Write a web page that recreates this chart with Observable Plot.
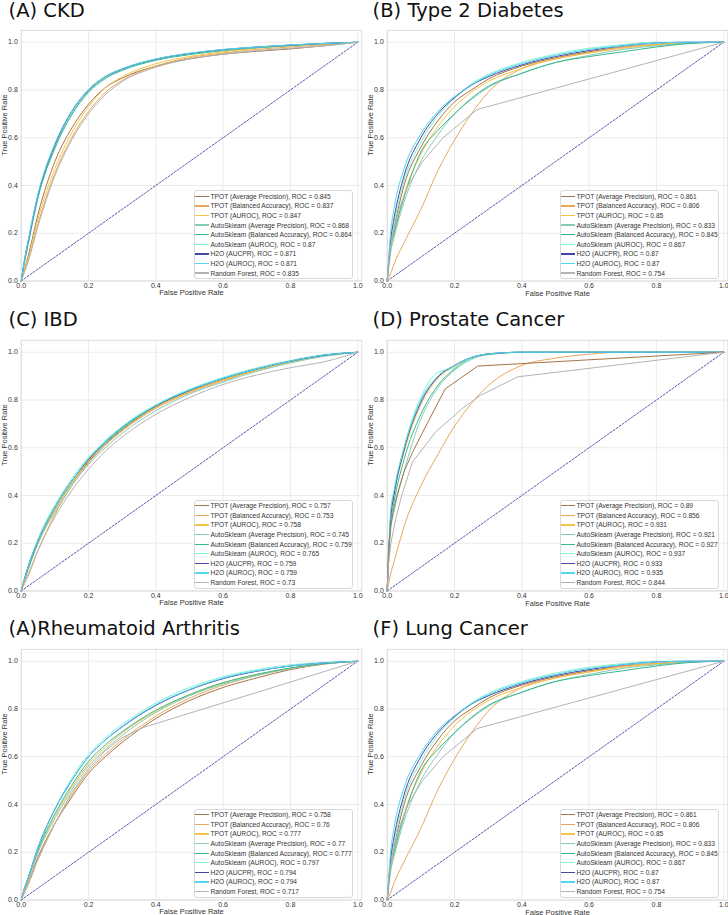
<!DOCTYPE html>
<html><head><meta charset="utf-8">
<script src="https://cdn.jsdelivr.net/npm/d3@7"></script>
<script src="https://cdn.jsdelivr.net/npm/@observablehq/plot@0.6"></script>
<style>
body{margin:0;background:#fff;}
#wrap{position:relative;width:728px;height:915px;overflow:hidden;background:#fff;}
.panel{position:absolute;}
.title{position:absolute;font-family:"DejaVu Sans",sans-serif;font-size:19.5px;line-height:22px;color:#111;white-space:nowrap;}
.legend{position:absolute;width:159px;height:89px;padding-top:0.5px;background:rgba(255,255,255,0.85);border:1px solid #d9d9d9;border-radius:3px;font-family:"Liberation Sans",Arial,sans-serif;font-size:6.65px;color:#333;box-sizing:border-box;}
.legend .row{display:flex;align-items:center;height:9.6px;white-space:nowrap;}
.legend .sw{width:14px;height:1.3px;margin:0 1.5px 0 0.5px;flex:none;}
</style></head>
<body><div id="wrap"></div>
<script>
// ---------- shared data ----------
const models = ["TPOT (Average Precision)","TPOT (Balanced Accuracy)","TPOT (AUROC)","AutoSkleam (Average Precision)","AutoSkleam (Balanced Accuracy)","AutoSkleam (AUROC)","H2O (AUCPR)","H2O (AUROC)","Random Forest"];
const colors = ["#a5744a","#e8a85c","#f6c344","#86cbb9","#38b88e","#80f2d6","#4646a6","#52d8ee","#b3b3b3"];
const tickValues = [0, 0.2, 0.4, 0.6, 0.8, 1.0];
const diagonal = [0, 1];
const fprGrid = [0, 0.01, 0.02, 0.05, 0.1, 0.15, 0.2, 0.25, 0.3, 0.4, 0.5, 0.6, 0.7, 0.8, 0.9, 1];

// ---------- (A) CKD ----------
const ckdROC = [0.845, 0.837, 0.847, 0.868, 0.864, 0.87, 0.871, 0.871, 0.835];
const ckdTPR = [
  [0, 0.05, 0.10, 0.28, 0.50, 0.64, 0.74, 0.81, 0.85, 0.90, 0.93, 0.95, 0.962, 0.972, 0.985, 1],
  [0, 0.04, 0.08, 0.24, 0.45, 0.60, 0.71, 0.79, 0.84, 0.90, 0.935, 0.955, 0.97, 0.98, 0.99, 1],
  [0, 0.05, 0.09, 0.26, 0.47, 0.62, 0.73, 0.81, 0.855, 0.91, 0.94, 0.96, 0.975, 0.985, 0.993, 1],
  [0, 0.08, 0.15, 0.35, 0.56, 0.70, 0.795, 0.85, 0.885, 0.926, 0.95, 0.967, 0.978, 0.987, 0.995, 1],
  [0, 0.08, 0.15, 0.35, 0.555, 0.695, 0.79, 0.848, 0.882, 0.924, 0.948, 0.965, 0.977, 0.986, 0.994, 1],
  [0, 0.09, 0.16, 0.36, 0.57, 0.71, 0.80, 0.855, 0.887, 0.928, 0.952, 0.968, 0.979, 0.988, 0.995, 1],
  [0, 0.09, 0.16, 0.36, 0.57, 0.71, 0.80, 0.856, 0.888, 0.929, 0.953, 0.969, 0.98, 0.988, 0.995, 1],
  [0, 0.09, 0.165, 0.365, 0.575, 0.712, 0.802, 0.857, 0.889, 0.93, 0.954, 0.97, 0.98, 0.989, 0.995, 1],
  [0, 0.04, 0.08, 0.23, 0.44, 0.59, 0.70, 0.78, 0.835, 0.895, 0.93, 0.95, 0.965, 0.975, 0.985, 1]
];

// ---------- (B) Type 2 Diabetes ----------
const t2dROC = [0.861, 0.806, 0.85, 0.833, 0.845, 0.867, 0.87, 0.87, 0.754];
const t2dTPR = [
  [0, 0.15, 0.22, 0.40, 0.56, 0.67, 0.75, 0.80, 0.845, 0.90, 0.935, 0.96, 0.98, 0.99, 0.998, 1],
  [0, 0.03, 0.07, 0.16, 0.30, 0.46, 0.59, 0.70, 0.79, 0.89, 0.93, 0.955, 0.98, 0.99, 0.997, 1],
  [0, 0.12, 0.19, 0.36, 0.53, 0.645, 0.73, 0.79, 0.835, 0.89, 0.93, 0.955, 0.975, 0.99, 0.998, 1],
  [0, 0.12, 0.18, 0.33, 0.50, 0.61, 0.70, 0.76, 0.81, 0.87, 0.915, 0.945, 0.97, 0.985, 0.997, 1],
  [0, 0.14, 0.20, 0.35, 0.54, 0.63, 0.70, 0.765, 0.815, 0.87, 0.915, 0.94, 0.96, 0.98, 0.995, 1],
  [0, 0.16, 0.24, 0.42, 0.58, 0.69, 0.765, 0.825, 0.865, 0.915, 0.95, 0.975, 0.99, 1, 1, 1],
  [0, 0.17, 0.26, 0.44, 0.60, 0.70, 0.768, 0.82, 0.855, 0.905, 0.94, 0.965, 0.985, 0.997, 1, 1],
  [0, 0.20, 0.30, 0.47, 0.615, 0.71, 0.772, 0.822, 0.86, 0.91, 0.945, 0.97, 0.985, 0.997, 1, 1],
  null
];
const t2dRFfpr = [0, 0.005, 0.017, 0.035, 0.062, 0.105, 0.166, 0.267, 1];
const t2dRFtpr = [0, 0.10, 0.20, 0.30, 0.40, 0.50, 0.60, 0.718, 1];

// ---------- (C) IBD ----------
const ibdROC = [0.757, 0.753, 0.758, 0.745, 0.759, 0.765, 0.759, 0.759, 0.73];
const ibdTPR = [
  [0, 0.05, 0.09, 0.20, 0.34, 0.45, 0.54, 0.615, 0.675, 0.77, 0.835, 0.885, 0.925, 0.96, 0.985, 1],
  [0, 0.03, 0.06, 0.17, 0.32, 0.44, 0.535, 0.61, 0.67, 0.765, 0.83, 0.88, 0.925, 0.96, 0.985, 1],
  [0, 0.05, 0.09, 0.20, 0.34, 0.45, 0.545, 0.62, 0.68, 0.77, 0.835, 0.885, 0.925, 0.96, 0.985, 1],
  [0, 0.05, 0.09, 0.20, 0.33, 0.44, 0.53, 0.60, 0.66, 0.755, 0.825, 0.875, 0.92, 0.955, 0.983, 1],
  [0, 0.05, 0.09, 0.21, 0.35, 0.46, 0.55, 0.62, 0.68, 0.775, 0.84, 0.89, 0.93, 0.962, 0.987, 1],
  [0, 0.06, 0.10, 0.22, 0.36, 0.47, 0.56, 0.63, 0.69, 0.78, 0.845, 0.895, 0.935, 0.965, 0.99, 1],
  [0, 0.05, 0.10, 0.21, 0.35, 0.46, 0.55, 0.625, 0.685, 0.775, 0.84, 0.89, 0.93, 0.963, 0.988, 1],
  [0, 0.05, 0.10, 0.21, 0.35, 0.46, 0.555, 0.625, 0.685, 0.777, 0.842, 0.89, 0.93, 0.963, 0.988, 1],
  [0, 0.04, 0.07, 0.17, 0.31, 0.42, 0.51, 0.585, 0.645, 0.74, 0.81, 0.865, 0.905, 0.935, 0.96, 1]
];

// ---------- (D) Prostate Cancer ----------
const prostateROC = [0.89, 0.856, 0.931, 0.921, 0.927, 0.937, 0.933, 0.935, 0.844];
const prostateTPR = [
  null,
  [0, 0.07, 0.12, 0.27, 0.44, 0.57, 0.69, 0.785, 0.86, 0.945, 0.975, 0.992, 1, 1, 1, 1],
  [0, 0.30, 0.40, 0.58, 0.78, 0.89, 0.94, 0.975, 0.99, 1, 1, 1, 1, 1, 1, 1],
  [0, 0.25, 0.33, 0.50, 0.72, 0.85, 0.925, 0.97, 0.99, 0.999, 1, 1, 1, 1, 1, 1],
  [0, 0.28, 0.37, 0.55, 0.74, 0.86, 0.93, 0.975, 0.992, 1, 1, 1, 1, 1, 1, 1],
  [0, 0.30, 0.40, 0.60, 0.81, 0.915, 0.935, 0.975, 0.993, 1, 1, 1, 1, 1, 1, 1],
  [0, 0.30, 0.40, 0.59, 0.79, 0.895, 0.945, 0.978, 0.993, 1, 1, 1, 1, 1, 1, 1],
  [0, 0.33, 0.42, 0.60, 0.80, 0.90, 0.945, 0.978, 0.993, 1, 1, 1, 1, 1, 1, 1],
  null
];
const prostateTpotAPfpr = [0, 0.003, 0.01, 0.02, 0.035, 0.05, 0.075, 0.1, 0.172, 0.269, 1];
const prostateTpotAPtpr = [0, 0.15, 0.27, 0.35, 0.43, 0.50, 0.58, 0.65, 0.846, 0.942, 1];
const prostateRFfpr = [0, 0.003, 0.011, 0.025, 0.043, 0.075, 0.145, 0.224, 0.278, 0.388, 1];
const prostateRFtpr = [0, 0.10, 0.20, 0.30, 0.40, 0.54, 0.668, 0.765, 0.82, 0.897, 1];

// ---------- (A) Rheumatoid Arthritis ----------
const raROC = [0.758, 0.76, 0.777, 0.77, 0.777, 0.797, 0.794, 0.794, 0.717];
const raTPR = [
  [0, 0.04, 0.07, 0.18, 0.32, 0.43, 0.53, 0.60, 0.66, 0.76, 0.835, 0.89, 0.93, 0.965, 0.988, 1],
  [0, 0.03, 0.06, 0.17, 0.32, 0.44, 0.54, 0.61, 0.67, 0.77, 0.845, 0.90, 0.94, 0.97, 0.99, 1],
  [0, 0.04, 0.08, 0.20, 0.35, 0.47, 0.57, 0.64, 0.70, 0.79, 0.86, 0.91, 0.945, 0.97, 0.99, 1],
  [0, 0.04, 0.08, 0.20, 0.34, 0.46, 0.56, 0.63, 0.69, 0.785, 0.855, 0.905, 0.94, 0.97, 0.99, 1],
  [0, 0.05, 0.09, 0.21, 0.36, 0.48, 0.58, 0.65, 0.705, 0.795, 0.86, 0.91, 0.945, 0.972, 0.99, 1],
  [0, 0.05, 0.09, 0.22, 0.38, 0.51, 0.61, 0.68, 0.735, 0.825, 0.89, 0.935, 0.965, 0.985, 0.995, 1],
  [0, 0.05, 0.09, 0.22, 0.38, 0.50, 0.60, 0.67, 0.725, 0.815, 0.88, 0.927, 0.958, 0.98, 0.993, 1],
  [0, 0.05, 0.09, 0.22, 0.38, 0.50, 0.60, 0.67, 0.727, 0.818, 0.882, 0.93, 0.96, 0.98, 0.993, 1],
  null
];
const raRFfpr = [0, 0.01, 0.02, 0.05, 0.1, 0.15, 0.2, 0.25, 0.3, 0.364, 1];
const raRFtpr = [0, 0.04, 0.07, 0.17, 0.32, 0.45, 0.55, 0.625, 0.68, 0.723, 1];

// ---------- (F) Lung Cancer (identical curves to panel B in the figure) ----------
const lungROC = [0.861, 0.806, 0.85, 0.833, 0.845, 0.867, 0.87, 0.87, 0.754];
const lungTPR = t2dTPR;
const lungRFfpr = t2dRFfpr;
const lungRFtpr = t2dRFtpr;

const panels = [
  {title: "(A) CKD", row: 0, col: 0, roc: ckdROC, tpr: ckdTPR, extra: []},
  {title: "(B) Type 2 Diabetes", row: 0, col: 1, roc: t2dROC, tpr: t2dTPR, extra: [[8, t2dRFfpr, t2dRFtpr]]},
  {title: "(C) IBD", row: 1, col: 0, roc: ibdROC, tpr: ibdTPR, extra: []},
  {title: "(D) Prostate Cancer", row: 1, col: 1, roc: prostateROC, tpr: prostateTPR, extra: [[0, prostateTpotAPfpr, prostateTpotAPtpr],[8, prostateRFfpr, prostateRFtpr]]},
  {title: "(A)Rheumatoid Arthritis", row: 2, col: 0, roc: raROC, tpr: raTPR, extra: [[8, raRFfpr, raRFtpr]]},
  {title: "(F) Lung Cancer", row: 2, col: 1, roc: lungROC, tpr: lungTPR, extra: [[8, lungRFfpr, lungRFtpr]]}
];

// ---------- layout ----------
const rowTops = [0, 309.5, 618.5];
const colLefts = [0, 366];
const colWidths = [363.3, 362];
const titleTops = [0, 309, 618];
const titleLefts = [8.6, 372.6];
const fmt = d3.format(".1f");
const wrap = document.getElementById("wrap");

panels.forEach(p => {
  const gridData = [];
  p.tpr.forEach((arr, i) => {
    if (!arr) return;
    arr.forEach((t, j) => gridData.push({fpr: fprGrid[j], tpr: t, model: models[i]}));
  });
  const extraData = [];
  p.extra.forEach(([i, f, t]) => f.forEach((v, j) => extraData.push({fpr: v, tpr: t[j], model: models[i]})));

  const w = colWidths[p.col];
  const chart = Plot.plot({
    width: w, height: 308.5,
    marginLeft: 20.7, marginRight: w - 20.7 - 340.6, marginTop: 29.8, marginBottom: 28,
    style: {fontFamily: "'Liberation Sans', Arial, sans-serif", fontSize: "7px", color: "#333", background: "transparent", overflow: "visible"},
    x: {domain: [0, 1.012]},
    y: {domain: [0, 1.05]},
    color: {domain: models, range: colors},
    marks: [
      Plot.gridX(tickValues, {stroke: "#e6e6e6", strokeOpacity: 1, strokeWidth: 0.8}),
      Plot.gridY(tickValues, {stroke: "#e6e6e6", strokeOpacity: 1, strokeWidth: 0.8}),
      Plot.frame({stroke: "#d6d6d6", strokeWidth: 0.8}),
      Plot.axisX(tickValues, {tickSize: 0, tickPadding: 2.5, tickFormat: fmt, label: null, fill: "#333"}),
      Plot.axisY(tickValues, {tickSize: 0, tickPadding: 3.4, tickFormat: fmt, label: null, fill: "#333"}),
      Plot.text(["False Positive Rate"], {text: d => d, frameAnchor: "bottom", dy: 14.5, fontSize: 7.5, fill: "#333"}),
      Plot.text(["True Positive Rate"], {text: d => d, frameAnchor: "left", dx: -16.4, rotate: -90, fontSize: 7.5, fill: "#333"}),
      Plot.line(diagonal, {x: d => d, y: d => d, stroke: "#2f2fa0", strokeWidth: 0.8, strokeDasharray: "2,1.6"}),
      Plot.line(gridData, {x: "fpr", y: "tpr", z: "model", stroke: "model", strokeWidth: 1, curve: "monotone-x"}),
      Plot.line(extraData, {x: "fpr", y: "tpr", z: "model", stroke: "model", strokeWidth: 1, curve: "linear"})
    ]
  });
  chart.classList.add("panel");
  chart.style.left = colLefts[p.col] + "px";
  chart.style.top = rowTops[p.row] + "px";
  wrap.appendChild(chart);

  const title = document.createElement("div");
  title.className = "title";
  title.textContent = p.title;
  title.style.left = titleLefts[p.col] + "px";
  title.style.top = titleTops[p.row] + "px";
  wrap.appendChild(title);

  const lg = document.createElement("div");
  lg.className = "legend";
  lg.style.left = (colLefts[p.col] + 193.5) + "px";
  lg.style.top = (rowTops[p.row] + 190) + "px";
  models.forEach((m, i) => {
    const r = document.createElement("div");
    r.className = "row";
    const sw = document.createElement("span");
    sw.className = "sw";
    sw.style.background = colors[i];
    const tx = document.createElement("span");
    tx.textContent = `${m}, ROC = ${p.roc[i]}`;
    r.appendChild(sw); r.appendChild(tx);
    lg.appendChild(r);
  });
  wrap.appendChild(lg);
});
</script>
</body></html>
